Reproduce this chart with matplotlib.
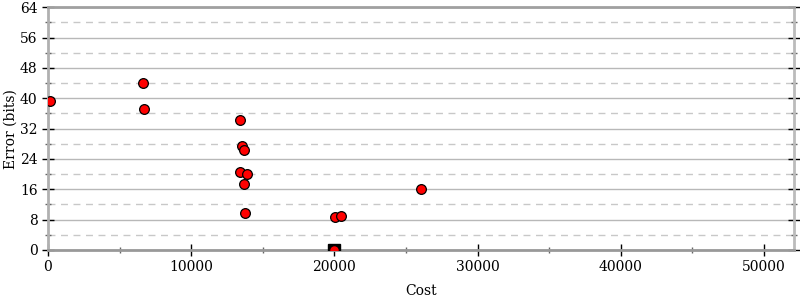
import numpy as np
import matplotlib
matplotlib.use('Agg')
import matplotlib.pyplot as plt
from matplotlib.ticker import MultipleLocator

# measured points (cost, error in bits)
cost = [140, 6610, 6720, 13400, 13550, 13710, 13400, 13870, 13670, 13780,
        20060, 20440, 26050, 20000]
error = [39.4, 44.1, 37.2, 34.3, 27.3, 26.4, 20.6, 20.0, 17.4, 9.8,
         8.7, 8.9, 16.1, 0.0]
best_cost = [20000]
best_error = [0.0]

plt.rcParams['font.family'] = 'DejaVu Serif'

fig = plt.figure(figsize=(8, 3), dpi=100)
ax = fig.add_axes([0.06, 0.1667, 0.9325, 0.809])

ax.plot(best_cost, best_error, 's', color='black', markersize=8.5, zorder=3)
ax.plot(cost, error, 'o', color='red', markeredgecolor='black',
        markeredgewidth=0.9, markersize=7, zorder=4)

ax.set_xlim(0, 52100)
ax.set_ylim(0, 64)
ax.xaxis.set_major_locator(MultipleLocator(10000))
ax.xaxis.set_minor_locator(MultipleLocator(5000))
ax.yaxis.set_major_locator(MultipleLocator(8))
ax.yaxis.set_minor_locator(MultipleLocator(4))

ax.grid(True, which='major', axis='y', color='#b8b8b8', linestyle='-', linewidth=1)
ax.grid(True, which='minor', axis='y', color='#c8c8c8', linestyle=(0, (5, 4)), linewidth=1)
ax.set_axisbelow(True)

ax.tick_params(axis='both', which='major', direction='inout', length=8,
               width=1, labelsize=10, color='black')
ax.tick_params(axis='both', which='minor', direction='inout', length=4,
               width=1, color='#666666')
ax.tick_params(axis='y', which='both', right=True)
ax.tick_params(axis='x', which='both', top=False)

for side, col in [('left', '#b0b0b0'), ('bottom', '#999999'),
                  ('top', '#a0a0a0'), ('right', '#bbbbbb')]:
    ax.spines[side].set_color(col)
    ax.spines[side].set_linewidth(2)

ax.set_xlabel('Cost', fontsize=10, labelpad=7)
ax.set_ylabel('Error (bits)', fontsize=10, labelpad=2)

fig.savefig('out.png', dpi=100)
